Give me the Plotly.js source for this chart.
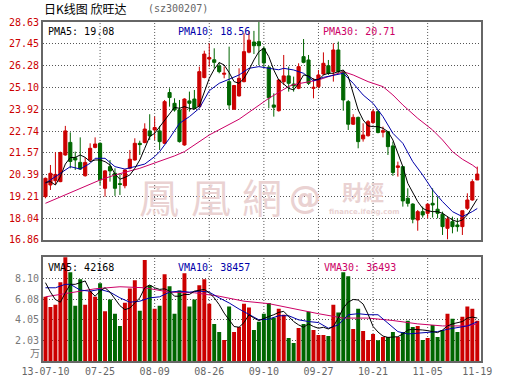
<!DOCTYPE html>
<html>
<head>
<meta charset="utf-8">
<script src="https://cdn.plot.ly/plotly-3.0.1.min.js"></script>
<style>html,body{margin:0;padding:0;background:#fff;}#chart{width:530px;height:391px;}</style>
</head>
<body>
<div id="chart"></div>
<script>
// ---- categories (trading days) ----
const dates = [
 "13-07-10","13-07-11","13-07-12","13-07-15","13-07-16","13-07-17","13-07-18","13-07-19","13-07-22","13-07-23","13-07-24","13-07-25","13-07-26","13-07-29","13-07-30","13-07-31",
 "13-08-01","13-08-02","13-08-05","13-08-06","13-08-07","13-08-08","13-08-09","13-08-12","13-08-13","13-08-14","13-08-15","13-08-16","13-08-19","13-08-20","13-08-21","13-08-22","13-08-23","13-08-26","13-08-27","13-08-28","13-08-29","13-08-30",
 "13-09-02","13-09-03","13-09-04","13-09-05","13-09-06","13-09-09","13-09-10","13-09-11","13-09-12","13-09-13","13-09-16","13-09-17","13-09-18","13-09-23","13-09-24","13-09-25","13-09-26","13-09-27","13-09-30",
 "13-10-08","13-10-09","13-10-10","13-10-11","13-10-14","13-10-15","13-10-16","13-10-17","13-10-18","13-10-21","13-10-22","13-10-23","13-10-24","13-10-25","13-10-28","13-10-29","13-10-30","13-10-31",
 "13-11-01","13-11-04","13-11-05","13-11-06","13-11-07","13-11-08","13-11-11","13-11-12","13-11-13","13-11-14","13-11-15","13-11-18","13-11-19"
];

// ---- price series (OHLC) ----
const open = [19.20,19.83,20.06,20.01,21.45,22.13,21.30,21.05,20.33,21.18,21.86,22.08,19.65,20.82,20.46,19.90,19.79,20.73,21.18,22.08,
 22.12,22.75,22.80,22.75,22.08,24.82,24.24,23.88,21.99,24.37,24.47,24.06,25.63,26.63,26.59,26.26,25.81,25.41,23.92,24.64,
 25.41,27.00,27.55,27.57,27.19,26.19,24.15,23.84,25.41,25.72,25.28,25.05,26.76,26.58,25.05,25.14,25.82,26.27,25.95,27.12,
 25.95,24.33,23.11,23.48,22.32,22.49,23.20,23.79,22.68,22.71,21.94,20.78,20.82,19.11,18.80,17.94,18.39,18.30,18.84,18.52,
 18.25,17.49,17.85,17.67,17.58,18.57,19.02,20.10];
const high = [20.23,20.91,21.60,21.63,23.02,22.67,21.63,22.40,21.32,22.08,22.40,22.13,20.64,21.18,20.73,20.46,20.68,21.72,22.35,22.22,
 23.16,23.65,23.52,23.02,24.42,25.05,24.51,24.42,24.51,24.87,24.96,26.22,27.08,27.48,27.21,26.45,26.22,27.30,25.23,26.13,
 28.02,28.15,28.15,28.63,27.32,26.26,24.78,25.55,26.85,26.22,25.68,26.40,27.71,26.85,25.59,26.04,26.99,26.58,27.48,27.57,
 26.04,24.42,23.65,23.52,23.16,23.34,23.92,23.88,22.98,22.71,22.17,21.09,20.82,19.65,18.84,18.48,18.66,18.84,19.65,19.20,
 18.39,18.12,18.12,18.03,18.44,19.38,20.14,20.82];
const low = [19.11,19.56,19.85,19.98,21.41,20.73,20.64,20.64,20.28,21.09,21.81,19.83,19.20,20.01,19.24,19.29,19.65,20.68,21.14,21.45,
 22.08,22.26,22.26,21.72,22.04,24.06,23.79,22.12,21.95,23.79,23.92,24.02,25.59,26.22,26.13,25.86,25.59,23.92,23.88,24.60,
 25.37,26.94,26.90,26.30,26.20,23.97,23.52,23.79,25.23,24.87,24.87,25.00,26.40,25.23,24.51,25.05,25.77,25.77,25.41,25.86,
 23.84,22.80,23.07,21.81,22.17,22.44,23.12,22.62,22.40,21.45,20.32,20.28,18.66,18.66,17.76,17.36,18.07,18.03,18.07,18.03,
 17.13,16.90,17.22,17.31,17.13,18.48,18.98,20.10];
const close = [20.19,20.46,20.40,21.58,22.75,21.10,21.18,20.69,21.05,21.81,22.04,20.10,20.59,20.59,19.65,19.86,20.64,21.22,22.08,22.01,
 22.85,22.48,22.93,22.17,24.33,24.55,23.88,22.17,24.47,24.24,23.97,25.95,26.90,26.71,26.45,25.95,25.86,24.15,25.20,25.59,
 27.03,27.65,27.35,27.35,26.42,24.54,24.03,25.50,25.72,25.32,25.18,26.22,26.45,25.32,25.10,25.77,26.40,25.86,27.12,25.95,
 24.42,23.11,23.48,22.17,22.53,23.25,23.79,22.66,22.76,21.90,20.50,20.86,18.97,18.84,17.98,18.39,18.21,18.79,18.75,18.30,
 17.58,17.99,17.58,17.58,18.44,19.02,20.01,20.42];

// ---- price moving averages ----
const pma5 = [19.97,20.01,19.83,20.28,20.96,21.31,21.32,21.45,21.32,21.09,21.18,21.18,21.09,20.91,20.42,20.14,20.24,20.37,20.73,21.18,
 21.81,22.44,22.62,22.98,23.34,23.70,24.02,23.97,24.06,23.97,23.92,24.10,24.87,25.59,26.08,26.44,26.31,25.90,25.41,25.32,
 25.59,26.04,26.58,27.03,27.21,26.76,26.04,25.50,25.28,25.05,24.96,25.32,25.77,25.72,25.54,25.50,25.77,25.86,25.86,25.95,
 26.04,25.68,24.78,23.88,23.34,23.02,22.98,22.98,22.89,22.71,22.26,21.54,20.82,19.92,19.38,18.93,18.57,18.44,18.39,18.39,
 18.30,18.12,17.94,17.85,17.94,18.21,18.66,19.08];
const pma10Idx = [0,3,5,7,9,10,12,14,16,18,20,22,23,25,27,29,31,33,35,37,39,41,43,45,47,48,50,52,54,56,58,60,62,64,66,68,70,72,74,76,78,80,82,84,86,87];
const pma10 = [19.92,20.46,20.82,20.69,21.00,21.27,21.27,20.82,20.69,20.82,20.96,21.36,21.63,22.35,23.16,23.52,23.97,24.92,25.32,25.54,
 25.77,26.13,26.22,26.13,26.05,26.13,26.04,25.86,25.45,25.64,25.77,25.86,25.32,24.69,24.24,23.52,22.62,22.08,21.09,20.37,
 19.56,18.93,18.39,18.12,18.39,18.56];
const pma30Idx = [0,11,14,19,26,28,33,39,45,49,50,55,58,60,62,65,68,70,72,75,78,80,82,84,86,87];
const pma30 = [18.84,20.10,20.37,20.73,21.40,21.63,22.53,23.38,24.51,25.15,25.25,25.50,25.77,25.95,25.77,25.41,25.14,24.69,24.15,23.43,
 22.80,22.26,21.63,21.22,20.91,20.71];

// ---- volume (万) ----
const volume = [6.31,5.31,5.54,7.74,10.4,8.73,5.44,8.03,5.54,6.87,6.31,7.64,4.88,6.04,4.65,3.45,5.74,7.14,7.93,4.95,
 9.93,7.44,5.15,5.44,8.53,7.34,4.65,6.94,8.63,5.35,6.04,7.44,8.03,5.64,3.65,2.86,2.06,5.35,2.86,3.35,
 5.64,5.25,3.05,3.85,4.65,5.71,4.25,5.15,4.55,2.26,1.76,3.25,3.65,4.85,3.05,2.56,2.56,2.46,5.54,4.78,
 8.73,8.33,3.15,5.15,2.95,2.06,2.66,2.03,2.36,2.36,2.86,2.36,2.86,3.95,3.35,3.45,2.06,2.26,3.55,2.36,
 3.05,4.65,4.15,2.86,4.35,5.35,5.15,3.95];
const vma5 = [7.70,6.77,6.04,5.78,6.71,7.54,7.54,7.70,7.87,6.87,6.37,6.87,7.20,6.77,6.04,5.44,5.05,5.21,5.71,6.21,
 7.20,7.47,7.20,7.04,7.10,6.87,6.37,6.37,6.54,6.54,6.87,6.97,7.04,6.71,6.21,5.54,4.71,4.05,3.39,3.32,
 3.78,4.55,4.22,3.98,4.22,4.38,4.55,4.78,4.88,4.38,3.88,3.55,3.32,3.65,3.39,3.22,3.32,3.15,3.39,4.22,
 5.20,5.80,6.05,6.00,5.60,4.60,3.40,2.85,2.45,2.32,2.32,2.39,2.66,3.05,3.12,3.05,3.05,2.99,2.89,2.79,
 3.05,3.45,3.65,3.78,3.88,4.22,4.32,4.22];
const vma10Idx = [0,2,4,5,7,9,11,13,15,17,19,21,23,25,27,29,31,33,35,37,39,41,43,45,47,49,51,53,55,57,59,61,63,65,67,69,71,73,75,77,79,81,83,85,87];
const vma10 = [7.20,7.20,7.54,7.54,6.97,6.87,7.04,6.77,6.21,5.78,5.88,6.21,6.31,6.77,6.87,6.77,6.87,6.77,6.21,5.71,
 5.11,4.55,4.05,4.12,4.45,4.45,4.05,3.88,3.78,3.22,3.55,4.55,4.65,4.55,4.55,3.72,2.89,2.66,2.72,2.79,
 2.89,3.12,3.32,3.45,3.85];
const vma30Idx = [0,5,10,15,20,25,30,35,40,45,50,55,60,65,70,75,80,85,87];
const vma30 = [6.31,6.71,7.10,7.30,7.20,6.77,6.71,6.37,5.88,5.64,5.11,4.65,4.22,4.22,3.98,3.65,3.45,3.45,3.65];

// ---- tick labels ----
const priceTicks = [16.86,18.04,19.21,20.39,21.57,22.74,23.92,25.10,26.28,27.45,28.63];
const volTicks = [2.03,4.05,6.08,8.10];
const xTickDates = ["13-07-10","13-07-25","13-08-09","13-08-26","13-09-10","13-09-27","13-10-21","13-11-05","13-11-19"];
const xTickLabels = ["13-07-10","07-25","08-09","08-26","09-10","09-27","10-21","11-05","11-19"];
const gridDates = xTickDates.slice(1, 8);

// ---- styles ----
const RED = '#cc0000', GREEN = '#006600';
const C5 = '#000000', C10 = '#0000aa', C30 = '#cc0066';
const MONO = 'DejaVu Sans Mono';
const GRID = '#555555';
const WM = '#ead2d2';

const volColors = close.map((c, i) => c >= open[i] ? RED : GREEN);
const pick = idx => idx.map(i => dates[i]);

const traces = [
  {type:'candlestick', x:dates, open:open, high:high, low:low, close:close,
   xaxis:'x', yaxis:'y', whiskerwidth:0, hoverinfo:'skip',
   increasing:{line:{color:RED, width:1}, fillcolor:RED},
   decreasing:{line:{color:GREEN, width:1}, fillcolor:GREEN}},
  {type:'scatter', mode:'lines', x:pick(pma30Idx), y:pma30, xaxis:'x', yaxis:'y', line:{color:C30, width:1}, hoverinfo:'skip'},
  {type:'scatter', mode:'lines', x:pick(pma10Idx), y:pma10, xaxis:'x', yaxis:'y', line:{color:C10, width:1}, hoverinfo:'skip'},
  {type:'scatter', mode:'lines', x:dates, y:pma5, xaxis:'x', yaxis:'y', line:{color:C5, width:1}, hoverinfo:'skip'},
  {type:'bar', x:dates, y:volume, xaxis:'x2', yaxis:'y2', width:0.8, marker:{color:volColors, line:{width:0}}, hoverinfo:'skip'},
  {type:'scatter', mode:'lines', x:pick(vma30Idx), y:vma30, xaxis:'x2', yaxis:'y2', line:{color:C30, width:1}, hoverinfo:'skip'},
  {type:'scatter', mode:'lines', x:pick(vma10Idx), y:vma10, xaxis:'x2', yaxis:'y2', line:{color:C10, width:1}, hoverinfo:'skip'},
  {type:'scatter', mode:'lines', x:dates, y:vma5, xaxis:'x2', yaxis:'y2', line:{color:C5, width:1}, hoverinfo:'skip'}
];

// pixel helpers for annotations (plot area: x 43..481, y 22..361)
const fx = p => (p - 43) / 438;
const fy = p => (361 - p) / 339;
const ann = (text, x, y, opts) => Object.assign({text:text, x:fx(x), y:fy(y), xref:'paper', yref:'paper',
  xanchor:'left', yanchor:'middle', showarrow:false, borderpad:0, font:{family:MONO, size:10, color:'#000'}}, opts || {});

const annotations = [
  ann('日K线图 欣旺达', 43, 8, {font:{family:'Noto Sans CJK SC', size:12, color:'#000'}}),
  ann('(sz300207)', 147, 8, {font:{family:MONO, size:10, color:'#666'}}),
  ann('PMA5: 19.08', 47, 32, {font:{family:MONO, size:10, color:C5}}),
  ann('PMA10: 18.56', 177, 32, {font:{family:MONO, size:10, color:C10}}),
  ann('PMA30: 20.71', 322, 32, {font:{family:MONO, size:10, color:C30}}),
  ann('VMA5: 42168', 47, 267, {font:{family:MONO, size:10, color:C5}}),
  ann('VMA10: 38457', 177, 267, {font:{family:MONO, size:10, color:C10}}),
  ann('VMA30: 36493', 323, 267, {font:{family:MONO, size:10, color:C30}}),
  ann('万', 41, 352, {xanchor:'right', font:{family:'Noto Sans CJK SC', size:10, color:'#777'}}),
  // watermark
  ann('鳳', 159, 196, {xanchor:'center', font:{family:'Noto Sans CJK TC', size:40, color:WM}}),
  ann('凰', 211, 196, {xanchor:'center', font:{family:'Noto Sans CJK TC', size:40, color:WM}}),
  ann('網', 262, 196, {xanchor:'center', font:{family:'Noto Sans CJK TC', size:40, color:WM}}),
  ann('@', 305, 197, {xanchor:'center', font:{family:'DejaVu Sans', size:32, color:WM, weight:'bold'}}),
  ann('財經', 363, 191, {xanchor:'center', font:{family:'Noto Sans CJK TC', size:21, color:WM, weight:'bold'}}),
  ann('finance.ifeng.com', 364, 212, {xanchor:'center', font:{family:'DejaVu Sans', size:7, color:WM, weight:'bold'}})
];

const shapes = [];
gridDates.forEach(d => {
  const i = dates.indexOf(d);
  shapes.push({type:'line', xref:'x', yref:'y domain', x0:i, x1:i, y0:0, y1:1, layer:'below', line:{color:GRID, width:1, dash:'1px,2px'}});
  shapes.push({type:'line', xref:'x2', yref:'y2 domain', x0:i, x1:i, y0:0, y1:1, layer:'below', line:{color:GRID, width:1, dash:'1px,2px'}});
});

const frame = {showline:true, mirror:true, linecolor:'#666', linewidth:2, zeroline:false, ticks:'', fixedrange:true};

const layout = {
  width:530, height:391,
  margin:{l:43, r:49, t:22, b:30, pad:0},
  paper_bgcolor:'#fff', plot_bgcolor:'#fff',
  showlegend:false, dragmode:false,
  boxgap:0.3, boxgroupgap:0.1,
  font:{family:MONO, size:10, color:'#000'},
  xaxis: Object.assign({domain:[0,1], anchor:'y', type:'category', categoryorder:'array', categoryarray:dates,
    range:[-0.5, 87.75], showticklabels:false, showgrid:false, rangeslider:{visible:false}}, frame),
  yaxis: Object.assign({domain:[0.357,1], anchor:'x', range:[16.86,28.63], tickmode:'array',
    tickvals:priceTicks, ticktext:priceTicks.map(v => v.toFixed(2)),
    tickfont:{family:MONO, size:10, color:RED}, showgrid:true, gridcolor:GRID, gridwidth:1, griddash:'1px,2px'}, frame),
  xaxis2: Object.assign({domain:[0,1], anchor:'y2', type:'category', categoryorder:'array', categoryarray:dates,
    range:[-0.5, 87.75], tickmode:'array', tickvals:xTickDates, ticktext:xTickLabels,
    tickfont:{family:MONO, size:10, color:'#666'}, showgrid:false}, frame),
  yaxis2: Object.assign({domain:[0,0.306], anchor:'x2', range:[0,10.2], tickmode:'array',
    tickvals:volTicks, ticktext:volTicks.map(v => v.toFixed(2)),
    tickfont:{family:MONO, size:10, color:'#777'}, showgrid:true, gridcolor:GRID, gridwidth:1, griddash:'1px,2px'}, frame),
  annotations: annotations,
  shapes: shapes
};

Plotly.newPlot('chart', traces, layout, {displayModeBar:false, staticPlot:true});
</script>
</body>
</html>
